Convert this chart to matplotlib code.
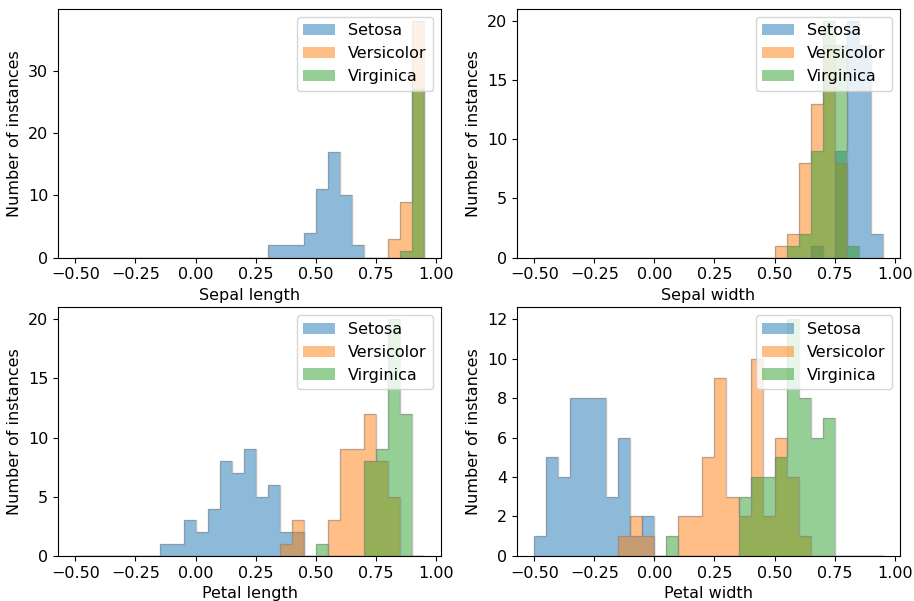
import numpy as np
import matplotlib
matplotlib.use("Agg")
import matplotlib.pyplot as plt

# ============================================================
# 1. bins and per-bin counts (bin width 0.05, from -0.5 to 0.95)
# ============================================================
bin_edges = np.linspace(-0.5, 0.95, 30)
bin_centers = (bin_edges[:-1] + bin_edges[1:]) / 2
n_bins = len(bin_centers)

species = ['Setosa', 'Versicolor', 'Virginica']
features = ['Sepal length', 'Sepal width', 'Petal length', 'Petal width']


def counts_from(pairs):
    # pairs: {bin index: count}, bin index 0 -> [-0.50, -0.45)
    c = np.zeros(n_bins)
    for i, v in pairs.items():
        c[i] = v
    return c


# sepal length
sl_setosa = counts_from({16: 2, 17: 2, 18: 2, 19: 4, 20: 11, 21: 17, 22: 10, 23: 2})
sl_versicolor = counts_from({26: 3, 27: 9, 28: 38})
sl_virginica = counts_from({27: 1, 28: 27})

# sepal width
sw_setosa = counts_from({23: 1, 25: 9, 26: 20, 27: 18, 28: 2})
sw_versicolor = counts_from({20: 1, 21: 2, 22: 8, 23: 13, 24: 18, 25: 8})
sw_virginica = counts_from({21: 1, 22: 2, 23: 9, 24: 20, 25: 18, 26: 1})

# petal length
pl_setosa = counts_from({7: 1, 8: 1, 9: 3, 10: 2, 11: 4, 12: 8, 13: 7, 14: 9,
                         15: 5, 16: 6, 17: 2, 18: 2})
pl_versicolor = counts_from({17: 1, 18: 3, 21: 3, 22: 9, 23: 9, 24: 12, 25: 8, 26: 5})
pl_virginica = counts_from({20: 1, 24: 8, 25: 9, 26: 20, 27: 12})

# petal width
pw_setosa = counts_from({0: 1, 1: 5, 2: 4, 3: 8, 4: 8, 5: 8, 6: 3, 7: 6, 8: 1, 9: 2})
pw_versicolor = counts_from({7: 1, 8: 2, 9: 1, 12: 2, 13: 2, 14: 5, 15: 9, 16: 3,
                             17: 2, 18: 10, 19: 2, 20: 6, 21: 4, 22: 1})
pw_virginica = counts_from({11: 1, 17: 3, 18: 4, 19: 4, 20: 5, 21: 12, 22: 8,
                            23: 6, 24: 7})

all_counts = [
    [sl_setosa, sl_versicolor, sl_virginica],
    [sw_setosa, sw_versicolor, sw_virginica],
    [pl_setosa, pl_versicolor, pl_virginica],
    [pw_setosa, pw_versicolor, pw_virginica],
]

# ============================================================
# 2. plot
# ============================================================
plt.rcParams['font.size'] = 11.5

fig, axes = plt.subplots(2, 2, figsize=(9.14, 6.01), dpi=100)
fig.subplots_adjust(left=0.0635, right=0.9847, top=0.985, bottom=0.075,
                    wspace=0.198, hspace=0.2)

for ax, feat, counts in zip(axes.flat, features, all_counts):
    for k, (name, c) in enumerate(zip(species, counts)):
        ax.hist(bin_centers, bins=bin_edges, weights=c, alpha=0.5,
                color='C%d' % k, label=name)
        # grey outline of each histogram
        ax.hist(bin_centers, bins=bin_edges, weights=c, histtype='step',
                color='grey', alpha=0.5, linewidth=1)
    ax.set_xlabel(feat)
    ax.set_ylabel('Number of instances')
    ax.legend(loc='upper right')

plt.savefig('out.png', dpi=100)
